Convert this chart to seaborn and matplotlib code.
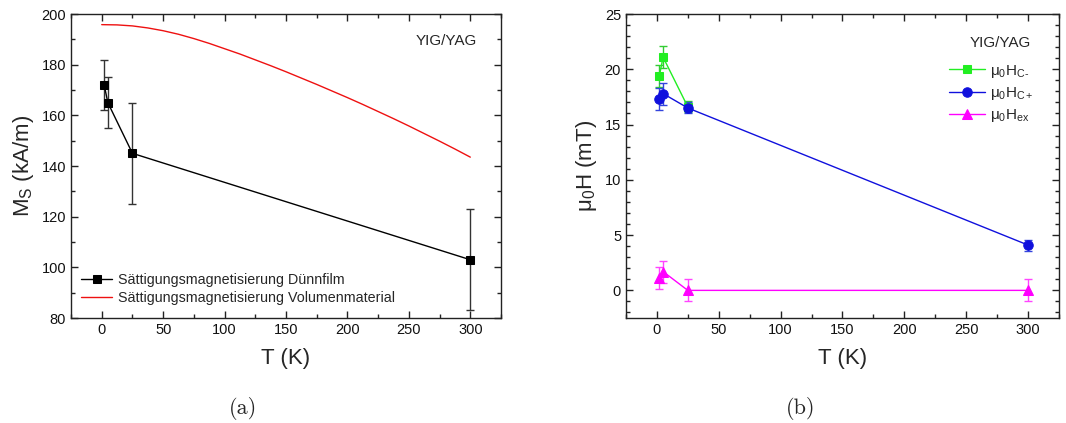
import numpy as np
import pandas as pd
import matplotlib
matplotlib.use("Agg")
import matplotlib.pyplot as plt
from matplotlib.ticker import MultipleLocator
import seaborn as sns

# ---- (a) saturation magnetisation ----
t_film = [2, 5, 25, 300]
ms_film = [172, 165, 145, 103]
ms_film_err = [10, 10, 20, 20]

t_bulk = [0, 12.5, 25, 37.5, 50, 62.5, 75, 87.5, 100, 112.5, 125, 137.5, 150,
          162.5, 175, 187.5, 200, 212.5, 225, 237.5, 250, 262.5, 275, 287.5, 300]
ms_bulk = [195.8, 195.7, 195.3, 194.5, 193.4, 192.0, 190.3, 188.4, 186.3, 184.2,
           181.9, 179.6, 177.2, 174.7, 172.2, 169.6, 167.0, 164.3, 161.5, 158.7,
           155.8, 152.8, 149.8, 146.7, 143.5]

# ---- (b) coercive and exchange fields ----
t_hcm = [2, 5, 25]
hcm = [19.4, 21.1, 16.6]
hcm_err = [1.0, 1.0, 0.5]

t_hcp = [2, 5, 25, 300]
hcp = [17.3, 17.8, 16.5, 4.1]
hcp_err = [1.0, 1.0, 0.5, 0.5]

t_hex = [2, 5, 25, 300]
hex_ = [1.1, 1.7, 0.0, 0.0]
hex_err = [1.0, 1.0, 1.0, 1.0]

sns.set_theme(style="ticks")
plt.rcParams["font.family"] = ["Liberation Sans", "DejaVu Sans"]
plt.rcParams["mathtext.fontset"] = "custom"
plt.rcParams["mathtext.rm"] = "Liberation Sans"
plt.rcParams["mathtext.it"] = "Liberation Sans:italic"
plt.rcParams["mathtext.bf"] = "Liberation Sans:bold"

fig = plt.figure(figsize=(10.66, 4.23), dpi=100)
ax1 = fig.add_axes([0.0666, 0.2482, 0.4034, 0.7187])
ax2 = fig.add_axes([0.5872, 0.2482, 0.4062, 0.7187])


def style_axes(ax):
    for s in ax.spines.values():
        s.set_linewidth(1.0)
        s.set_color("#222222")
    ax.tick_params(which="both", direction="in", top=True, right=True,
                   colors="#222222", labelcolor="#111111", labelsize=10.5)
    ax.tick_params(which="major", length=5, width=1.0)
    ax.tick_params(which="minor", length=3, width=1.0)
    ax.xaxis.set_major_locator(MultipleLocator(50))
    ax.xaxis.set_minor_locator(MultipleLocator(25))
    ax.set_xlim(-25, 325)


# panel (a)
df_film = pd.DataFrame({"T": t_film, "Ms": ms_film})
df_bulk = pd.DataFrame({"T": t_bulk, "Ms": ms_bulk})
ax1.errorbar(t_film, ms_film, yerr=ms_film_err, fmt="none", ecolor="#333333",
             elinewidth=1.0, capsize=3, capthick=1.0, zorder=2)
sns.lineplot(data=df_film, x="T", y="Ms", ax=ax1, color="black", marker="s",
             markersize=5.8, markeredgecolor="black", linewidth=1.0,
             label="Sättigungsmagnetisierung Dünnfilm", zorder=3)
sns.lineplot(data=df_bulk, x="T", y="Ms", ax=ax1, color="#ee1111", linewidth=1.0,
             label="Sättigungsmagnetisierung Volumenmaterial", zorder=3)
style_axes(ax1)
ax1.set_ylim(80, 200)
ax1.yaxis.set_major_locator(MultipleLocator(20))
ax1.yaxis.set_minor_locator(MultipleLocator(10))
ax1.set_xlabel("T (K)", fontsize=16, labelpad=8)
ax1.set_ylabel("M$_\\mathrm{S}$ (kA/m)", fontsize=16, labelpad=4)
ax1.text(0.945, 0.91, "YIG/YAG", transform=ax1.transAxes, ha="right",
         va="center", fontsize=11)
ax1.legend(loc="lower left", bbox_to_anchor=(0.0, 0.01), frameon=False,
           fontsize=10.3, handlelength=2.2, handletextpad=0.4,
           labelspacing=0.3, borderaxespad=0.3)

# panel (b)
series_b = [
    (t_hcm, hcm, hcm_err, "#22ee22", "#33cc33", "s", 5.8, "μ$_0$H$_\\mathrm{C\u2010}$"),
    (t_hcp, hcp, hcp_err, "#1010dd", "#3344dd", "o", 6.8, "μ$_0$H$_\\mathrm{C+}$"),
    (t_hex, hex_, hex_err, "#ff00ff", "#ff44ff", "^", 6.8, "μ$_0$H$_\\mathrm{ex}$"),
]
for t, v, e, col, ecol, mk, ms, lab in series_b:
    ax2.errorbar(t, v, yerr=e, fmt="none", ecolor=ecol, elinewidth=1.0,
                 capsize=3, capthick=1.0, zorder=2)
    d = pd.DataFrame({"T": t, "H": v})
    sns.lineplot(data=d, x="T", y="H", ax=ax2, color=col, marker=mk,
                 markersize=ms, markeredgecolor=col, linewidth=1.0,
                 label=lab, zorder=3)
style_axes(ax2)
ax2.set_ylim(-2.5, 25)
ax2.yaxis.set_major_locator(MultipleLocator(5))
ax2.yaxis.set_minor_locator(MultipleLocator(1))
ax2.set_xlabel("T (K)", fontsize=16, labelpad=8)
ax2.set_ylabel("μ$_0$H (mT)", fontsize=16, labelpad=4)
ax2.text(0.935, 0.905, "YIG/YAG", transform=ax2.transAxes, ha="right",
         va="center", fontsize=11)
ax2.legend(loc="upper right", bbox_to_anchor=(0.955, 0.86), frameon=False,
           fontsize=11, handlelength=2.4, handletextpad=0.3,
           labelspacing=0.35, borderaxespad=0.0)

# panel captions
fig.text(0.228, 0.035, "(a)", family="cmr10", fontsize=16, ha="center", va="center")
fig.text(0.751, 0.035, "(b)", family="cmr10", fontsize=16, ha="center", va="center")

fig.savefig("out.png", dpi=100)
